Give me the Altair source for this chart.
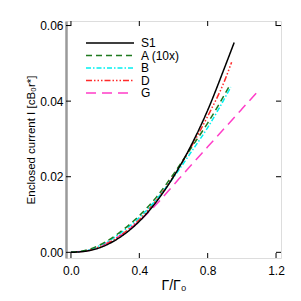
import altair as alt
import pandas as pd

# ---- data ----
x_s1 = [0.0, 0.1, 0.2, 0.3, 0.4, 0.5, 0.6, 0.7, 0.8, 0.9, 0.955]
y_s1 = [0.0, 0.0004, 0.0018, 0.0044, 0.0082, 0.0134, 0.0200, 0.0280, 0.0376, 0.0490, 0.0555]

x_a = [0.0, 0.1, 0.2, 0.3, 0.4, 0.5, 0.6, 0.7, 0.8, 0.93]
y_a = [0.0, 0.0007, 0.0027, 0.0058, 0.0097, 0.0146, 0.0207, 0.0274, 0.0342, 0.0442]

x_b = [0.0, 0.1, 0.2, 0.3, 0.4, 0.5, 0.6, 0.7, 0.8, 0.935]
y_b = [0.0, 0.0006, 0.0025, 0.0054, 0.0092, 0.0140, 0.0198, 0.0263, 0.0330, 0.0437]

x_d = [0.0, 0.1, 0.2, 0.3, 0.4, 0.5, 0.6, 0.7, 0.8, 0.9, 0.94]
y_d = [0.0, 0.0005, 0.0021, 0.0048, 0.0087, 0.0138, 0.0201, 0.0276, 0.0360, 0.0455, 0.0503]

x_g = [0.0, 0.1, 0.2, 0.3, 0.4, 0.5, 0.6, 0.7, 0.8, 0.9, 1.0, 1.09]
y_g = [0.0, 0.0005, 0.0022, 0.0048, 0.0083, 0.0127, 0.0178, 0.0229, 0.0279, 0.0329, 0.0379, 0.0424]

names = ["S1", "A (10x)", "B", "D", "G"]
xs_all = [x_s1, x_a, x_b, x_d, x_g]
ys_all = [y_s1, y_a, y_b, y_d, y_g]

x_ticks = [0.0, 0.4, 0.8, 1.2]
y_ticks = [0.0, 0.02, 0.04, 0.06]

# ---- styles ----
colors = ["#000000", "#1f7a1f", "#00f0f0", "#ff2a2a", "#ff3dc8"]
dashes = [[1, 0], [6, 4], [5, 2, 1.5, 2], [6, 2, 1.5, 2, 1.5, 2, 1.5, 2], [10, 6]]

W, H = 215, 237
FONT = "Liberation Sans"
TL = 5  # tick length

xscale = alt.Scale(domain=[-0.029, 1.229], nice=False, zero=False)
yscale = alt.Scale(domain=[-0.0015, 0.0612], nice=False, zero=False)

xaxis = alt.Axis(values=x_ticks, format=".1f", ticks=False, tickSize=0, grid=False,
                 domain=False, labelPadding=7, labelFontSize=12, labelFont=FONT,
                 labelColor="black", title="Γ/Γ₀", titleFont=FONT, titleFontSize=14,
                 titleFontWeight="normal", titleColor="black", titlePadding=2)
yaxis = alt.Axis(values=y_ticks, format=".2f", ticks=False, tickSize=0, grid=False,
                 domain=True, domainColor="#9a9a9a", domainWidth=2.5, labelPadding=3,
                 labelFontSize=12, labelFont=FONT, labelColor="black",
                 title="Enclosed current I [cB₀r*]", titleFont=FONT, titleFontSize=11.5,
                 titleFontWeight="normal", titleColor="black", titlePadding=3)

def X(f="x"):
    return alt.X(f"{f}:Q", scale=xscale, axis=xaxis)

def Y(f="y"):
    return alt.Y(f"{f}:Q", scale=yscale, axis=yaxis)

layers = []

# tick marks pointing inward on all four sides
xt = pd.DataFrame({"x": x_ticks})
yt = pd.DataFrame({"y": y_ticks})
layers.append(alt.Chart(xt).mark_rule(color="black", strokeWidth=1).encode(
    x=X(), y=alt.value(H), y2=alt.value(H - TL)))
layers.append(alt.Chart(xt).mark_rule(color="black", strokeWidth=1).encode(
    x=X(), y=alt.value(0), y2=alt.value(TL)))
layers.append(alt.Chart(yt).mark_rule(color="black", strokeWidth=1).encode(
    y=Y(), x=alt.value(0), x2=alt.value(TL)))
layers.append(alt.Chart(yt).mark_rule(color="black", strokeWidth=1).encode(
    y=Y(), x=alt.value(W), x2=alt.value(W - TL)))

# curves (draw G first so S1 sits on top)
order = [4, 3, 2, 1, 0]
for i in order:
    df = pd.DataFrame({"x": xs_all[i], "y": ys_all[i]})
    layers.append(alt.Chart(df).mark_line(color=colors[i], strokeWidth=1.5,
                                          strokeDash=dashes[i], interpolate="monotone").encode(
        x=X(), y=Y()))

# legend (inside plot, upper left)
leg_y = [22, 34.5, 47, 59.5, 72]
for i, name in enumerate(names):
    ld = pd.DataFrame({"label": [name]})
    layers.append(alt.Chart(ld).mark_rule(color=colors[i], strokeWidth=1.5,
                                          strokeDash=dashes[i]).encode(
        x=alt.value(20), x2=alt.value(68), y=alt.value(leg_y[i])))
    layers.append(alt.Chart(ld).mark_text(align="left", baseline="middle", fontSize=12,
                                          font=FONT, color="black").encode(
        x=alt.value(75), y=alt.value(leg_y[i]), text="label:N"))

chart = alt.layer(*layers).properties(
    width=W, height=H,
    autosize=alt.AutoSizeParams(type="none"),
    padding={"left": 58, "top": 13, "right": 10, "bottom": 40},
).configure_view(stroke="black", strokeWidth=1).configure(background="white")

chart.save("out.html", embed_options={"renderer": "svg", "actions": False})
